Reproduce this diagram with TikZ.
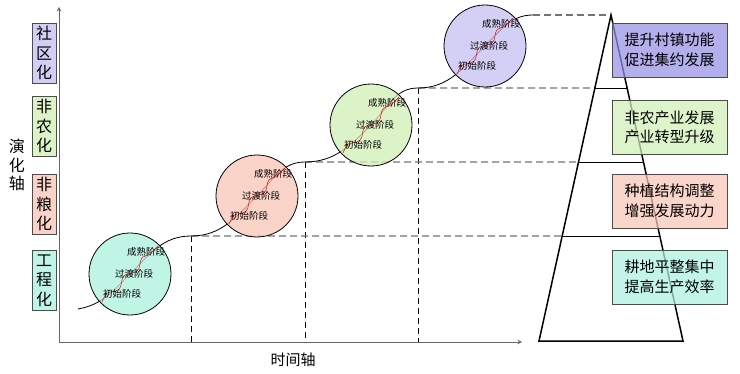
\documentclass[tikz,border=0pt]{standalone}
\usepackage{fontspec}
\setmainfont{Noto Sans CJK SC}
\tikzset{>=stealth}
\usetikzlibrary{calc,decorations.pathmorphing}

\definecolor{qing}{RGB}{171,241,222}
\definecolor{fen}{RGB}{248,197,182}
\definecolor{lv}{RGB}{208,239,182}
\definecolor{zi}{RGB}{196,191,241}
\definecolor{zideep}{RGB}{150,144,228}

\begin{document}
\begin{tikzpicture}[x=1pt,y=1pt,
    axis/.style={draw=black!60, line width=1pt},
    vdash/.style={black, dash pattern=on 6pt off 4pt, line width=0.8pt},
    hdash/.style={black!55, dash pattern=on 7pt off 4pt, line width=1.2pt},
    ring/.style={circle, draw, line width=0.8pt, minimum size=82pt, inner sep=0pt, fill opacity=0.75},
    wave/.style={red, line width=0.5pt, decorate, decoration={snake, amplitude=3pt, segment length=26pt}},
    stagetext/.style={font=\fontsize{9.5}{10}\selectfont, inner sep=0pt},
    lab/.style={draw=black!70, line width=0.7pt, minimum width=24pt, minimum height=60pt, inner sep=0pt,
        align=center, font=\fontsize{16}{19.5}\selectfont},
    goal/.style={draw=black!70, line width=0.7pt, minimum width=115pt, minimum height=54pt, inner sep=0pt,
        fill opacity=0.72, text opacity=1, align=center, font=\fontsize{15}{19.5}\selectfont}]
    \useasboundingbox (0,0) rectangle (740,373);

    \coordinate (o) at (59,31);
    \coordinate (xe) at (522,31);
    \coordinate (ye) at (59,366);
    \draw[axis,->] (o) -- (xe);
    \draw[axis,->] (o) -- (ye);
    \node (tl) at (293,13) {\fontsize{15}{15}\selectfont 时间轴};
    \node[align=center, font=\fontsize{16}{18.5}\selectfont] (yl) at (17,208) {演\\化\\轴};

    \node[lab, fill=zi!75] (l4) at (44,320) {社\\区\\化};
    \node[lab, fill=lv!75] (l3) at (44,247) {非\\农\\化};
    \node[lab, fill=fen!75] (l2) at (44,169) {非\\粮\\化};
    \node[lab, fill=qing!75] (l1) at (44,92.5) {工\\程\\化};

    \coordinate (s0) at (78,64);
    \coordinate (k1) at (191,137);
    \coordinate (k2) at (305,211);
    \coordinate (k3) at (418,285);
    \coordinate (k4) at (533,358);
    \coordinate (c1p) at (130,99);
    \coordinate (c2p) at (257,177);
    \coordinate (c3p) at (371,248);
    \coordinate (c4p) at (485,327);

    \coordinate (top) at (611,358);
    \coordinate (bl) at (539,32);
    \coordinate (br) at (683,32);
    \coordinate (p1l) at ($(top)!0.678!(bl)$);
    \coordinate (p1r) at ($(top)!0.678!(br)$);
    \coordinate (p2l) at ($(top)!0.451!(bl)$);
    \coordinate (p2r) at ($(top)!0.451!(br)$);
    \coordinate (p3l) at ($(top)!0.224!(bl)$);
    \coordinate (p3r) at ($(top)!0.224!(br)$);

    \draw[vdash] (k1) -- (k1 |- o);
    \draw[vdash] (k2) -- (k2 |- o);
    \draw[vdash] (k3) -- (k3 |- o);
    \draw[hdash] (k1) -- (p1l);
    \draw[hdash] (k2) -- (p2l);
    \draw[hdash] (k3) -- (p3l);
    \draw[hdash] (k4) -- (top);

    \draw[line width=1.5pt] (top) -- (bl) -- (br) -- cycle;
    \draw[line width=0.9pt] (p1l) -- (p1r);
    \draw[line width=0.9pt] (p2l) -- (p2r);
    \draw[line width=0.9pt] (p3l) -- (p3r);

    \draw[line width=0.8pt] (s0) to[out=10,in=225] (c1p) to[out=45,in=180] (k1)
        to[out=0,in=225] (c2p) to[out=45,in=180] (k2)
        to[out=0,in=225] (c3p) to[out=45,in=180] (k3)
        to[out=0,in=225] (c4p) to[out=45,in=180] (k4);

    \node[ring, fill=qing] (c1) at (c1p) {};
    \node[ring, fill=fen] (c2) at (c2p) {};
    \node[ring, fill=lv] (c3) at (c3p) {};
    \node[ring, fill=zi] (c4) at (c4p) {};

    \foreach \c in {c1,c2,c3,c4} {
        \draw[wave] ($(\c)+(-28,-28)$) -- ($(\c)+(28,28)$);
        \node[stagetext] (\c m) at ($(\c)+(16,22)$) {成熟阶段};
        \node[stagetext] (\c t) at ($(\c)+(4,0)$) {过渡阶段};
        \node[stagetext] (\c s) at ($(\c)+(-8,-20)$) {初始阶段};
    }

    \node[goal, fill=zideep] (g4) at (669.5,323) {提升村镇功能\\促进集约发展};
    \node[goal, fill=lv] (g3) at (669.5,245.5) {非农产业发展\\产业转型升级};
    \node[goal, fill=fen] (g2) at (669.5,172) {种植结构调整\\增强发展动力};
    \node[goal, fill=qing] (g1) at (669.5,96) {耕地平整集中\\提高生产效率};
\end{tikzpicture}
\end{document}
